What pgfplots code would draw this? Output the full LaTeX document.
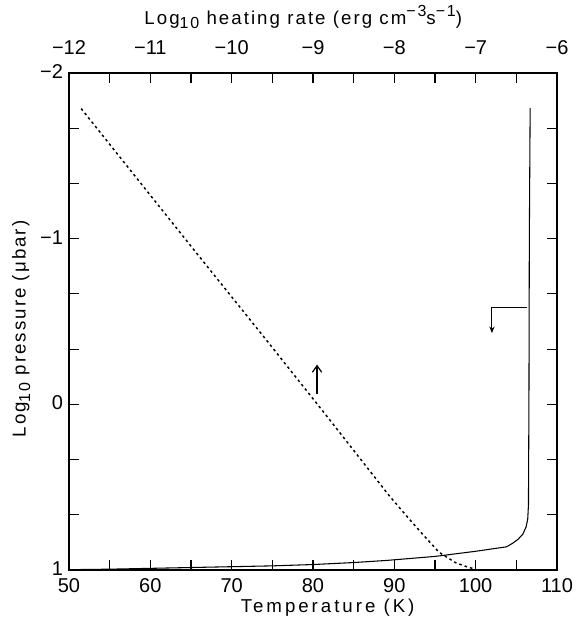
\documentclass[border=0pt]{standalone}
\usepackage{fontspec}
\setmainfont{Liberation Sans}
\usepackage{pgfplots}
\pgfplotsset{compat=1.18}
\usetikzlibrary{arrows.meta, calc}

\newcommand{\lowten}{\raisebox{-0.45ex}{\fontsize{12}{14}\selectfont 10}}
\newcommand{\up}[1]{\raisebox{0.75ex}{\fontsize{12}{14}\selectfont #1}}

\pgfplotsset{
  frame/.style={
    width=366pt, height=372.75pt, scale only axis,
    ymin=-2, ymax=1, y dir=reverse,
    major tick length=7.5pt, minor tick length=7.5pt,
    tick style={draw=black, line width=.8pt},
    tick label style={font=\fontsize{15}{17}\selectfont},
    label style={font=\fontsize{14}{16}\selectfont},
  },
}

\begin{document}
\begin{tikzpicture}
\begin{axis}[
  frame, name=main,
  axis line style={line width=1.3pt},
  xmin=50, xmax=110,
  xtick={50,60,70,80,90,100,110},
  xticklabels={50,60,70,80,90,100,110},
  minor xtick={55,65,75,85,95,105},
  xtick pos=bottom,
  xticklabel style={yshift=-2.5pt},
  ytick={-2,-1,0,1},
  yticklabels={−2,−1,0,1},
  minor ytick={-1.6667,-1.3333,-0.6667,-0.3333,0.3333,0.6667},
  ytick pos=both,
  yticklabel style={xshift=-1pt, yshift=1pt},
  xlabel={\addfontfeature{LetterSpace=16}Temperature (K)},
  xlabel style={at={(axis description cs:0.53,-0.076)}, anchor=center},
  ylabel={\addfontfeature{LetterSpace=11}Log\lowten\ pressure (μbar)},
  ylabel style={at={(axis description cs:-0.098,0.485)}, anchor=center},
  clip=false,
]
% temperature profile
\addplot[black, line width=.8pt] coordinates {
  (50,0.998) (55,0.995) (60,0.99) (65,0.985) (70,0.98) (75,0.975)
  (80,0.967) (85,0.955) (89.1,0.942) (95,0.918) (100,0.887)
  (103.8,0.860) (104.5,0.84) (105.2,0.815) (105.8,0.784) (106.2,0.74)
  (106.4,0.693) (106.5,0.6) (106.5,0.512) (106.55,0) (106.6,-1.0)
  (106.7,-1.79)};
\draw[line width=.9pt, -{Straight Barb[length=5pt, width=7pt]}]
  (axis cs:80.5,-0.06) -- (axis cs:80.5,-0.24);
\draw[line width=.8pt, -{Stealth[length=5pt, width=4pt]}]
  (axis cs:106.3,-0.584) -- (axis cs:102.0,-0.584) -- (axis cs:102.0,-0.43);
\end{axis}
\begin{axis}[
  frame,
  axis x line*=top, axis y line=none,
  axis line style={line width=1.3pt},
  xmin=-12, xmax=-6,
  xtick={-12,-11,-10,-9,-8,-7,-6},
  xticklabels={−12,−11,−10,−9,−8,−7,−6},
  minor xtick={-11.5,-10.5,-9.5,-8.5,-7.5,-6.5},
  xticklabel style={yshift=10pt},
  xlabel={\addfontfeature{LetterSpace=11}Log\lowten\ heating rate (erg cm\up{−3}s\up{−1})},
  xlabel style={at={(axis description cs:0.48,1.112)}, anchor=center},
  clip=false,
]
% heating rate profile
\addplot[black, line width=1.1pt, dash pattern=on 1.9pt off 2.3pt] coordinates {
  (-11.85,-1.785) (-10.46,-0.93) (-9.56,-0.38) (-8.80,0.09) (-8.065,0.55)
  (-7.86,0.668) (-7.656,0.782) (-7.45,0.893) (-7.25,0.955) (-7.1,0.982)
  (-7.0,0.995)};
\end{axis}
\pgfresetboundingbox
\path[use as bounding box]
  ($(main.south west)+(-51.75pt,-36pt)$) rectangle
  ($(main.north east)+(19.5pt,54.75pt)$);
\end{tikzpicture}
\end{document}
